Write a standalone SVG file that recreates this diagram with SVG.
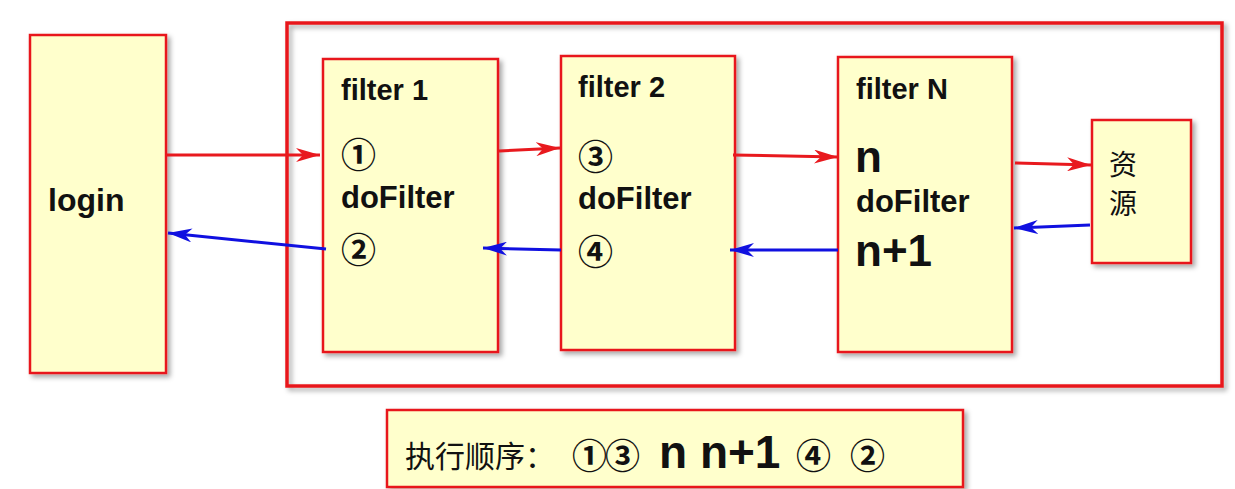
<svg xmlns="http://www.w3.org/2000/svg" width="1235" height="489" viewBox="0 0 1235 489">
<defs>
<filter id="sh" x="-10%" y="-10%" width="130%" height="130%">
<feDropShadow dx="3" dy="3" stdDeviation="2.5" flood-color="#000" flood-opacity="0.35"/>
</filter>
<marker id="ar" viewBox="0 0 24 14" refX="24" refY="7" markerWidth="24" markerHeight="14" markerUnits="userSpaceOnUse" orient="auto">
<path d="M0,0 L24,7 L0,14 L7,7 Z" fill="#E8191E"/>
</marker>
<marker id="ab" viewBox="0 0 24 14" refX="24" refY="7" markerWidth="24" markerHeight="14" markerUnits="userSpaceOnUse" orient="auto">
<path d="M0,0 L24,7 L0,14 L7,7 Z" fill="#1010E0"/>
</marker>
</defs>
<style>
.box{fill:#FFFFCC;stroke:#E8191E;stroke-width:2.5;filter:url(#sh)}
.frame{fill:none;stroke:#E8191E;stroke-width:3.5;filter:url(#sh)}
.t{font-family:"Liberation Sans",Arial,sans-serif;font-weight:bold;fill:#111}
.c{font-family:"Noto Sans CJK SC","DejaVu Sans",sans-serif;font-weight:bold;font-size:35px;fill:#111}
.cjk{font-family:"Noto Sans CJK SC",sans-serif;fill:#111}
.r{stroke:#E8191E;stroke-width:3;fill:none;marker-end:url(#ar)}
.b{stroke:#1010E0;stroke-width:3;fill:none;marker-end:url(#ab)}
</style>
<rect width="1235" height="489" fill="#fff"/>
<g id="frame"><rect class="frame" x="287" y="23" width="935" height="363"/></g>
<g id="login"><rect class="box" x="30" y="35" width="136" height="338"/><text class="t" x="48" y="211" font-size="32">login</text></g>
<g id="filter1"><rect class="box" x="323" y="59" width="175" height="293"/>
<text class="t" x="341" y="100" font-size="29">filter 1</text>
<text class="c" x="341" y="168">①</text>
<text class="t" x="341" y="208" font-size="31">doFilter</text>
<text class="c" x="341" y="263">②</text></g>
<g id="filter2"><rect class="box" x="561" y="56" width="174" height="294"/>
<text class="t" x="578" y="97" font-size="29">filter 2</text>
<text class="c" x="578" y="170">③</text>
<text class="t" x="578" y="209" font-size="31">doFilter</text>
<text class="c" x="578" y="265">④</text></g>
<g id="filterN"><rect class="box" x="838" y="57" width="174" height="295"/>
<text class="t" x="856" y="99" font-size="29">filter N</text>
<text class="t" x="855" y="172" font-size="44">n</text>
<text class="t" x="856" y="212" font-size="31">doFilter</text>
<text class="t" x="855" y="266" font-size="44">n+1</text></g>
<g id="res"><rect class="box" x="1092" y="120" width="99" height="143"/>
<text class="cjk" x="1109" y="175" font-size="28">资</text>
<text class="cjk" x="1109" y="214" font-size="28">源</text></g>
<g id="order"><rect class="box" x="387" y="410" width="576" height="77"/>
<text class="cjk" x="405" y="467" font-size="30">执行顺序：</text>
<text class="c" x="572" y="469">①</text>
<text class="c" x="605" y="469">③</text>
<text class="t" x="659" y="468" font-size="46">n n+1</text>
<text class="c" x="796" y="469">④</text>
<text class="c" x="850" y="469">②</text></g>
<g id="connectors">
<path class="r" d="M166,155 L320,155"/>
<path class="b" d="M326,249 L168,233"/>
<path class="r" d="M499,151 L560,148"/>
<path class="b" d="M561,250 L483,248"/>
<path class="r" d="M733,155 L838,157"/>
<path class="b" d="M838,250 L730,250"/>
<path class="r" d="M1015,163 L1091,165"/>
<path class="b" d="M1090,225 L1014,228"/>
</g>
</svg>
